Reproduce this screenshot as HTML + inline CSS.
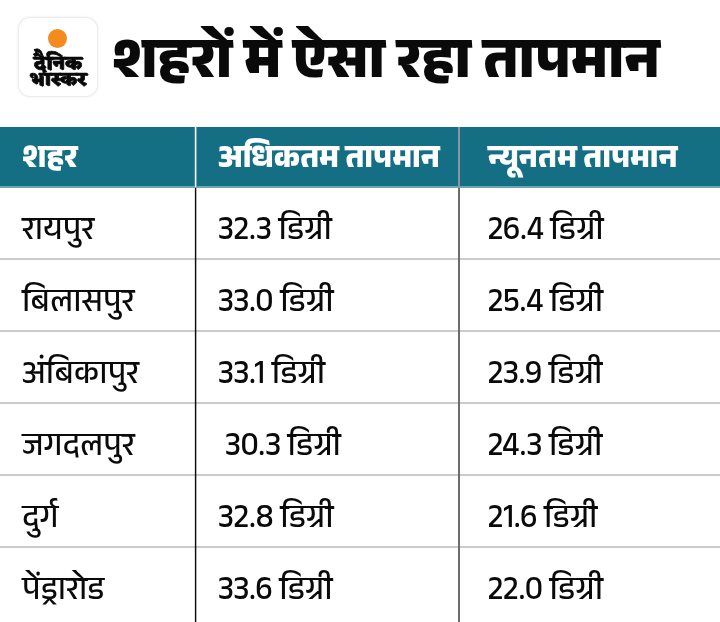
<!DOCTYPE html>
<html lang="hi">
<head>
<meta charset="utf-8">
<title>शहरों में ऐसा रहा तापमान</title>
<style>
html,body{margin:0;padding:0;background:#fff;}
body{width:720px;height:622px;overflow:hidden;position:relative;
  font-family:"Anek Devanagari","Mukta","Ek Mukta","Noto Sans Devanagari","Lohit Devanagari","Liberation Sans",sans-serif;color:#111;}
.logo{position:absolute;left:19px;top:18px;width:78px;height:78px;border-radius:11px;background:#fff;
  box-shadow:0 0 3px rgba(0,0,0,.22);}
.logo .sun{position:absolute;left:29.3px;top:11px;width:19px;height:19px;border-radius:50%;background:#f58a1f;}
.logo .t{position:absolute;left:-11px;width:100px;text-align:center;font-family:"Eczar","Noto Serif Devanagari","Anek Devanagari","Mukta","Noto Sans Devanagari",sans-serif;font-weight:800;color:#0a0a0a;-webkit-text-stroke:0.7px #0a0a0a;white-space:nowrap;transform-origin:50% 50%;}
.logo .t1{top:25.7px;font-size:18.1px;line-height:40px;transform:scaleX(1.096);}
.logo .t2{top:43px;left:-10px;font-size:17px;line-height:40px;transform:scaleX(1.15);}
h1{position:absolute;left:111.8px;top:25px;margin:0;font-size:57px;line-height:86px;font-weight:800;white-space:nowrap;color:#0a0a0a;}
.hdr{position:absolute;left:0;top:127px;width:720px;height:59px;background:#146f85;border-bottom:2px solid #6fa4b3;}
.hdr div{position:absolute;top:5px;height:60px;line-height:60px;color:#fff;font-weight:800;font-size:32px;white-space:nowrap;transform-origin:0 50%;transform:scaleX(.95);}
.vl{position:absolute;}
.row{position:absolute;left:0;width:720px;height:72px;}
.hl{position:absolute;left:0;width:720px;height:2px;background:#cbcbcb;}
.row div{position:absolute;top:11px;height:72px;line-height:72px;font-size:33.5px;font-weight:460;color:#0a0a0a;white-space:nowrap;transform-origin:0 50%;transform:scaleX(.938);}
.c1{left:21.5px;}.c2{left:218px;}.c3{left:488px;}
.row .c2,.row .c3{transform:scaleX(.946);}
</style>
</head>
<body>
<div class="logo"><div class="sun"></div><div class="t t1">दैनिक</div><div class="t t2">भास्कर</div></div>
<h1>शहरों में ऐसा रहा तापमान</h1>
<div class="hdr"><div class="c1">शहर</div><div class="c2">अधिकतम तापमान</div><div class="c3">न्यूनतम तापमान</div></div>
<div class="row" style="top:187px"><div class="c1">रायपुर</div><div class="c2">32.3 डिग्री</div><div class="c3">26.4 डिग्री</div></div>
<div class="row" style="top:259px"><div class="c1">बिलासपुर</div><div class="c2">33.0 डिग्री</div><div class="c3">25.4 डिग्री</div></div>
<div class="row" style="top:331px"><div class="c1">अंबिकापुर</div><div class="c2">33.1 डिग्री</div><div class="c3">23.9 डिग्री</div></div>
<div class="row" style="top:403px"><div class="c1">जगदलपुर</div><div class="c2" style="left:225px">30.3 डिग्री</div><div class="c3">24.3 डिग्री</div></div>
<div class="row" style="top:475px"><div class="c1">दुर्ग</div><div class="c2">32.8 डिग्री</div><div class="c3">21.6 डिग्री</div></div>
<div class="row" style="top:547px"><div class="c1">पेंड्रारोड</div><div class="c2">33.6 डिग्री</div><div class="c3">22.0 डिग्री</div></div>
<div class="hl" style="top:258px"></div>
<div class="hl" style="top:330px"></div>
<div class="hl" style="top:402px"></div>
<div class="hl" style="top:474px"></div>
<div class="hl" style="top:546px"></div>
<div class="vl" style="left:194px;top:127px;width:1px;height:59px;background:rgba(255,255,255,.2)"></div>
<div class="vl" style="left:195px;top:127px;width:1px;height:60px;background:#fff"></div>
<div class="vl" style="left:196px;top:127px;width:1px;height:59px;background:rgba(255,255,255,.4)"></div>
<div class="vl" style="left:458px;top:127px;width:2px;height:60px;background:#8e94a6"></div>
<div class="vl" style="left:195px;top:188px;width:1px;height:434px;background:#0a0a0a"></div>
<div class="vl" style="left:196px;top:188px;width:1px;height:434px;background:rgba(0,0,0,.3)"></div>
<div class="vl" style="left:194px;top:188px;width:1px;height:434px;background:rgba(0,0,0,.12)"></div>
<div class="vl" style="left:458px;top:188px;width:2px;height:434px;background:#6c6c6c"></div>
</body>
</html>
